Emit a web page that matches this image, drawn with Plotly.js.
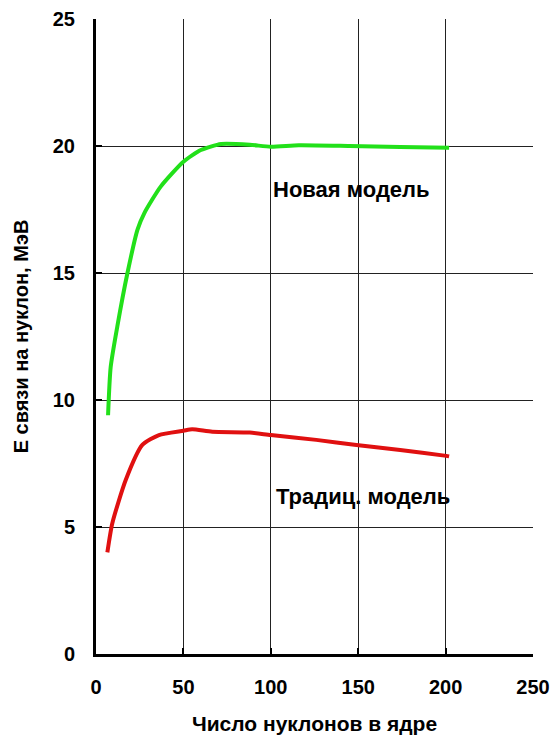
<!DOCTYPE html>
<html>
<head>
<meta charset="utf-8">
<script src="https://cdn.plot.ly/plotly-3.0.1.min.js"></script>
<style>html,body{margin:0;padding:0;background:#fff;}#chart{width:554px;height:739px;}</style>
</head>
<body>
<div id="chart"></div>
<script>
// Data
const newModelA = [6.9, 8.4, 12.2, 18, 23.7, 27.6, 37, 50, 60, 71.6, 88, 100, 116, 145, 174, 202];
const newModelE = [9.4, 11.3, 12.9, 15.0, 16.7, 17.35, 18.4, 19.38, 19.84, 20.08, 20.05, 19.97, 20.03, 20.0, 19.96, 19.93];
const tradModelA = [6.5, 9.3, 17, 26.5, 36, 50, 55, 66.5, 88, 100, 126, 149, 174, 200.4, 202];
const tradModelE = [4.0, 5.14, 6.85, 8.23, 8.62, 8.79, 8.85, 8.75, 8.72, 8.62, 8.43, 8.23, 8.03, 7.8, 7.78];
const xTicks = [0, 50, 100, 150, 200, 250];
const yTicks = [0, 5, 10, 15, 20, 25];
const labelNew = "Новая модель";
const labelTrad = "Традиц. модель";
const xTitle = "Число нуклонов в ядре";
const yTitle = "Е связи на нуклон, МэВ";

const fam = "Liberation Sans, Arial, sans-serif";
const boldFont = (size) => ({family: fam, size: size, color: "#000", weight: "bold"});

const traces = [
  {x: newModelA, y: newModelE, mode: "lines", line: {color: "#22e01a", width: 4, shape: "spline", smoothing: 0.6}, hoverinfo: "skip"},
  {x: tradModelA, y: tradModelE, mode: "lines", line: {color: "#e01010", width: 4, shape: "spline", smoothing: 0.6}, hoverinfo: "skip"}
];

const layout = {
  width: 554, height: 739,
  margin: {l: 96, r: 21, t: 19, b: 85},
  paper_bgcolor: "#fff", plot_bgcolor: "#fff",
  showlegend: false,
  font: {family: fam, size: 16, color: "#000"},
  xaxis: {
    range: [0, 250], tickvals: xTicks, ticktext: xTicks.map(String),
    showgrid: true, gridcolor: "#222", gridwidth: 1,
    zeroline: false, showline: true, linecolor: "#000", linewidth: 3,
    ticks: "inside", ticklen: 6, tickwidth: 2, tickcolor: "#000",
    ticklabelstandoff: 13, ticklabeloverflow: "allow",
    tickfont: boldFont(20),
    title: {text: xTitle, font: boldFont(21), standoff: 20}
  },
  yaxis: {
    range: [0, 25], tickvals: yTicks, ticktext: yTicks.map(String),
    showgrid: true, gridcolor: "#222", gridwidth: 1,
    zeroline: false, showline: true, linecolor: "#000", linewidth: 3,
    ticks: "inside", ticklen: 6, tickwidth: 2, tickcolor: "#000",
    ticklabelstandoff: 14, ticklabeloverflow: "allow",
    tickfont: boldFont(20),
    title: {text: yTitle, font: boldFont(20), standoff: 19}
  },
  annotations: [
    {x: 146, y: 18.3, xref: "x", yref: "y", text: labelNew, showarrow: false, font: boldFont(22)},
    {x: 153, y: 6.2, xref: "x", yref: "y", text: labelTrad, showarrow: false, font: boldFont(22)}
  ]
};

Plotly.newPlot("chart", traces, layout, {displayModeBar: false, staticPlot: true});
</script>
</body>
</html>
